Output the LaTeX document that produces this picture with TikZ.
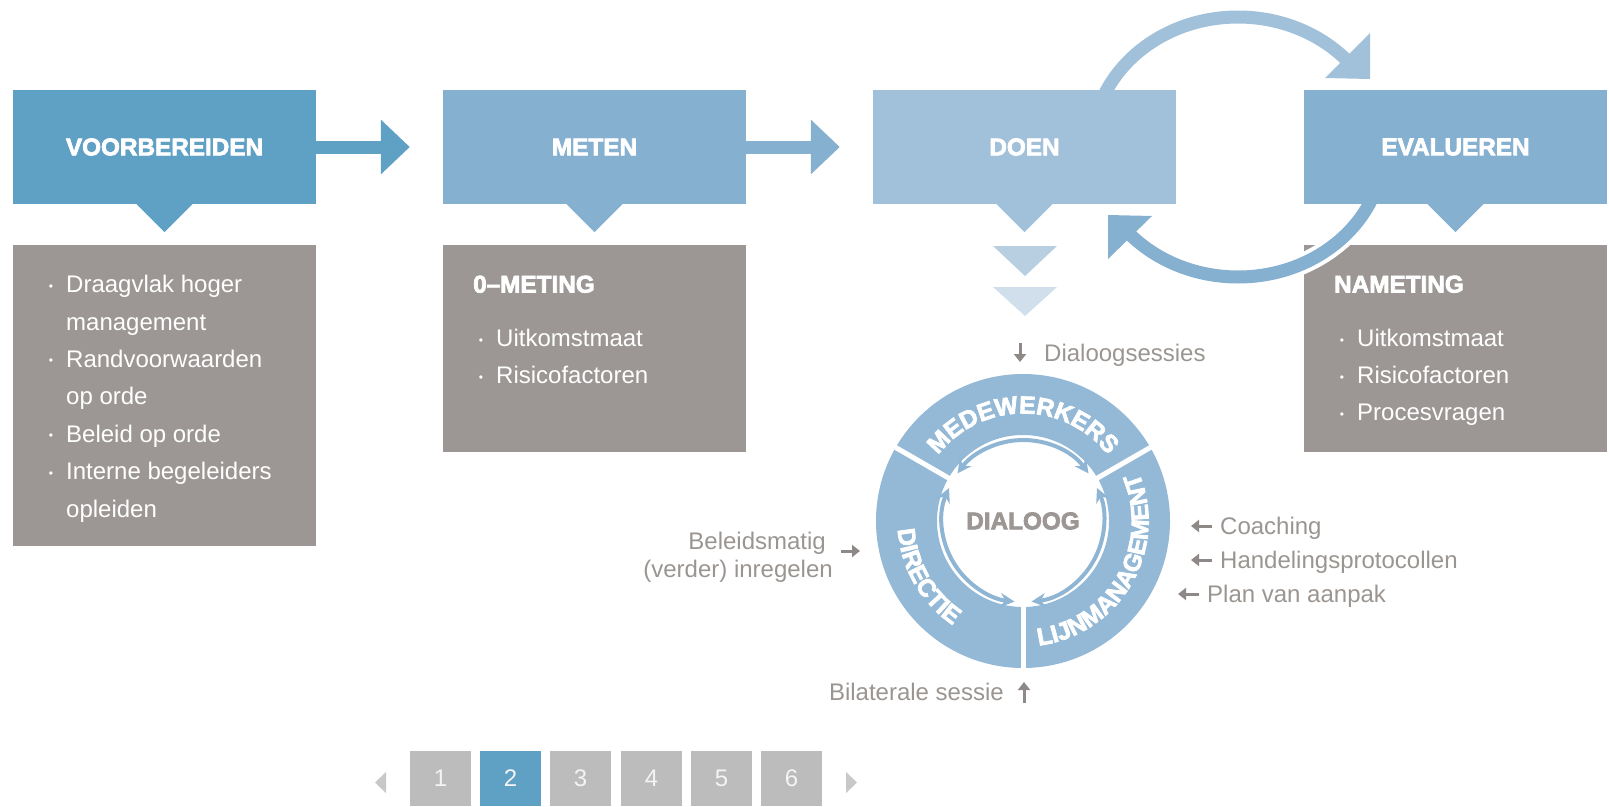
\documentclass[tikz,border=0pt]{standalone}
\usepackage{fontspec}
\setmainfont{Liberation Sans}[BoldFeatures={FakeBold=3}]
\usetikzlibrary{arrows.meta,decorations.text}
\definecolor{cA}{HTML}{5FA0C5}
\definecolor{cB}{HTML}{86B0D0}
\definecolor{cC}{HTML}{A1C0DA}
\definecolor{triA}{HTML}{B8CFE2}
\definecolor{triB}{HTML}{D0DFEB}
\definecolor{boxgray}{HTML}{9C9794}
\definecolor{lblgray}{HTML}{9A9591}
\definecolor{arrgray}{HTML}{8E8986}
\definecolor{ringblue}{HTML}{94B9D7}
\definecolor{inarr}{HTML}{8FB5D5}
\definecolor{pagegray}{HTML}{BDBCBC}
\definecolor{pagetri}{HTML}{C8C8C8}
\definecolor{pagetext}{HTML}{F4F4F4}
\newcommand\hdrfont{\fontsize{24.3}{29}\selectfont\bfseries}
\newcommand\bodyfont{\fontsize{24}{29}\selectfont}
\newcommand\ringfont{\fontsize{24.5}{28}\selectfont\bfseries}
\newcommand\bulletmark{\raisebox{2.6pt}{\fontsize{12}{12}\selectfont •}}
\tikzset{
  topbox/.style={minimum width=303pt, minimum height=114pt, inner sep=0pt, text=white, font=\hdrfont},
  graybox/.style={fill=boxgray, minimum width=303pt, inner sep=0pt},
  itm/.style={anchor=base west, inner sep=0pt, text=white, font=\bodyfont},
  bul/.style={anchor=base, inner sep=0pt, text=white, font=\bodyfont},
  ghead/.style={anchor=base west, inner sep=0pt, text=white, font=\hdrfont},
  lbl/.style={inner sep=0pt, text=lblgray, font=\bodyfont},
  sarrow/.style={draw=arrgray, line width=3pt, -{Triangle[length=8pt,width=12pt]}},
  flowarrow/.style={line width=13pt, -{Triangle[length=29pt,width=53pt]}},
  looparc/.style={line width=13pt},
  inarrow/.style={draw=inarr, line width=4pt, {Stealth[length=14pt,width=14pt]}-{Stealth[length=14pt,width=14pt]}},
  pagebox/.style={minimum width=61pt, minimum height=55pt, inner sep=0pt, text=pagetext, font=\bodyfont},
  ringtext/.style={decorate, decoration={text along path, text align=center, text color=white, text={|\ringfont|#1}}}
}
\begin{document}
\begin{tikzpicture}[x=1pt,y=1pt]
\path[use as bounding box] (0,0) rectangle (1609,-806);

% gray content boxes
\node[graybox, minimum height=301pt] (g1) at (164.5,-395.5) {};
\node[graybox, minimum height=207pt] (g2) at (594.5,-348.5) {};
\node[graybox, minimum height=207pt] (g3) at (1455.5,-348.5) {};

% loop arrows
\coordinate (lc) at (1238,-147);
\draw[looparc, cC] ([shift={(180:146pt and 130pt)}]lc) arc[start angle=180, end angle=41, x radius=146pt, y radius=130pt];
\fill[cC] (1370,-33) -- (1370,-79) -- (1325,-78) -- cycle;
\draw[white, line width=21pt] ([shift={(0:146pt and 130pt)}]lc) arc[start angle=0, end angle=-139, x radius=146pt, y radius=130pt];
\draw[looparc, cB] ([shift={(0:146pt and 130pt)}]lc) arc[start angle=0, end angle=-139, x radius=146pt, y radius=130pt];
\fill[cB] (1108,-215) -- (1152,-216) -- (1108,-259) -- cycle;

% top boxes
\node[topbox, fill=cA] (voor) at (164.5,-147) {VOORBEREIDEN};
\node[topbox, fill=cB] (meten) at (594.5,-147) {METEN};
\node[topbox, fill=cC] (doen) at (1024.5,-147) {DOEN};
\node[topbox, fill=cB] (eval) at (1455.5,-147) {EVALUEREN};
\fill[cA] ([xshift=-28pt]voor.south) -- ([xshift=28pt]voor.south) -- ([yshift=-28pt]voor.south) -- cycle;
\fill[cB] ([xshift=-28pt]meten.south) -- ([xshift=28pt]meten.south) -- ([yshift=-28pt]meten.south) -- cycle;
\fill[cC] ([xshift=-28pt]doen.south) -- ([xshift=28pt]doen.south) -- ([yshift=-28pt]doen.south) -- cycle;
\fill[cB] ([xshift=-28pt]eval.south) -- ([xshift=28pt]eval.south) -- ([yshift=-28pt]eval.south) -- cycle;
\fill[triA] (993,-246) -- (1057,-246) -- (1025,-276) -- cycle;
\fill[triB] (993,-287) -- (1057,-287) -- (1025,-316) -- cycle;

% flow arrows
\draw[flowarrow, cA] (voor.east) -- ([xshift=-33pt]meten.west);
\draw[flowarrow, cB] (meten.east) -- ([xshift=-33pt]doen.west);

% box 1 text
\foreach \t/\y in {{Draagvlak hoger}/292.6, {management}/330, {Randvoorwaarden}/367.4, {op orde}/404.8, {Beleid op orde}/442.2, {Interne begeleiders}/479.6, {opleiden}/517}
  \node[itm] at (66,-\y) {\t};
\foreach \y in {292.6, 367.4, 442.2, 479.6}
  \node[bul] at (51,-\y) {\bulletmark};
% box 2 text
\node[ghead] (h2) at (473,-292.6) {0–METING};
\node[bul] at (481,-346.6) {\bulletmark};
\node[itm] at (496,-346.6) {Uitkomstmaat};
\node[bul] at (481,-383.6) {\bulletmark};
\node[itm] at (496,-383.6) {Risicofactoren};
% box 3 text
\node[ghead] (h3) at (1334,-292.6) {NAMETING};
\node[bul] at (1342,-346.6) {\bulletmark};
\node[itm] at (1357,-346.6) {Uitkomstmaat};
\node[bul] at (1342,-383.6) {\bulletmark};
\node[itm] at (1357,-383.6) {Risicofactoren};
\node[bul] at (1342,-420.6) {\bulletmark};
\node[itm] at (1357,-420.6) {Procesvragen};

% dialogue circle
\coordinate (cc) at (1023,-521);
\draw[ringblue, line width=61pt] (cc) circle[radius=116.5pt];
\foreach \a in {30,150,270}
  \draw[white, line width=5pt] ([shift={(\a:84pt)}]cc) -- ([shift={(\a:149pt)}]cc);
\path[ringtext=MEDEWERKERS] ([shift={(150:107.5pt)}]cc) arc[start angle=150, end angle=30, radius=107.5pt];
\path[ringtext=DIRECTIE] ([shift={(150:125.5pt)}]cc) arc[start angle=150, end angle=270, radius=125.5pt];
\path[ringtext=LIJNMANAGEMENT] ([shift={(270:125.5pt)}]cc) arc[start angle=270, end angle=390, radius=125.5pt];
\foreach \s/\e in {36/144,156/264,276/384}
  \draw[inarrow] ([shift={(\s:81pt)}]cc) arc[start angle=\s, end angle=\e, radius=81pt];
\node[font=\hdrfont, text=boxgray, inner sep=0pt] (dia) at (cc) {DIALOOG};

% side labels
\node[lbl, anchor=base west] (dls) at (1044,-361) {Dialoogsessies};
\draw[sarrow] (1020,-343) -- (1020,-362);
\node[lbl, anchor=base east] (bel1) at (826,-549) {Beleidsmatig};
\node[lbl, anchor=base east] (bel2) at (833,-577) {(verder) inregelen};
\draw[sarrow] (841,-551) -- (860,-551);
\node[lbl, anchor=base west] (coach) at (1220,-534) {Coaching};
\draw[sarrow] (1212,-526) -- (1191,-526);
\node[lbl, anchor=base west] (hand) at (1220,-568) {Handelingsprotocollen};
\draw[sarrow] (1212,-560) -- (1191,-560);
\node[lbl, anchor=base west] (plan) at (1207,-602) {Plan van aanpak};
\draw[sarrow] (1199,-594) -- (1178,-594);
\node[lbl, anchor=base east] (bil) at (1004,-700) {Bilaterale sessie};
\draw[sarrow] (1024,-703) -- (1024,-682);

% pager
\fill[pagetri] (375,-782.5) -- (386,-772) -- (386,-793) -- cycle;
\node[pagebox, fill=pagegray] (p1) at (440.5,-778.5) {1};
\node[pagebox, fill=cA] (p2) at (510.5,-778.5) {2};
\node[pagebox, fill=pagegray] (p3) at (580.5,-778.5) {3};
\node[pagebox, fill=pagegray] (p4) at (651.5,-778.5) {4};
\node[pagebox, fill=pagegray] (p5) at (721.5,-778.5) {5};
\node[pagebox, fill=pagegray] (p6) at (791.5,-778.5) {6};
\fill[pagetri] (857,-782.5) -- (846,-772) -- (846,-793) -- cycle;
\end{tikzpicture}
\end{document}
